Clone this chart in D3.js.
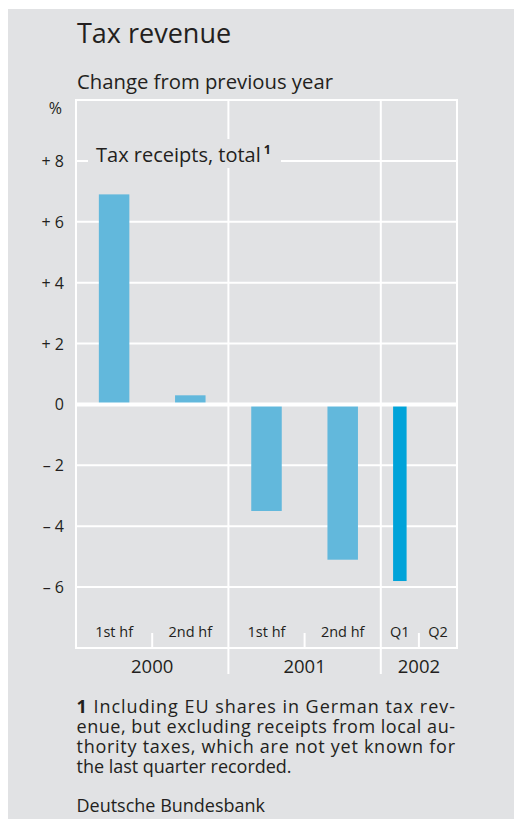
<!DOCTYPE html>
<html><head><meta charset="utf-8">
<script src="https://cdn.jsdelivr.net/npm/d3@7"></script>
<style>
html,body{margin:0;padding:0;background:#fff;}
svg{display:block;}
text{font-family:"Open Sans","Noto Sans",sans-serif;fill:#231f20;}
</style></head>
<body>
<svg id="chart" width="514" height="819"></svg>
<script>
// ---- data ----
const years = ["2000", "2001", "2002"];
const yearSpanQuarters = [4, 4, 2];          // quarters shown per year
const periods = ["1st hf", "2nd hf", "1st hf", "2nd hf", "Q1", "Q2"];
const periodQuarters = [2, 2, 2, 2, 1, 1];   // length of each period in quarters
const values = [6.9, 0.3, -3.5, -5.1, -5.8, null];
const yTickValues = [-6, -4, -2, 0, 2, 4, 6, 8];
const yTickLabels = ["– 6", "– 4", "– 2", "0", "+ 2", "+ 4", "+ 6", "+ 8"];
const title = "Tax revenue";
const subtitle = "Change from previous year";
const unitLabel = "%";
const seriesLabel = "Tax receipts, total";
const footnoteLines = [
  ["1", " Including EU shares in German tax rev-"],
  ["", "enue, but excluding receipts from local au-"],
  ["", "thority taxes, which are not yet known for"],
  ["", "the last quarter recorded."]
];
const source = "Deutsche Bundesbank";

// ---- layout ----
const svg = d3.select("#chart");
const bg = "#e1e2e4";
const grid = "#ffffff";
const light = "#62b8dc", dark = "#00a3d9";
const L = 76, R = 457, T = 100, B = 648;

svg.append("rect").attr("x", 8).attr("y", 9).attr("width", 506).attr("height", 810).attr("fill", bg);

const totalQ = d3.sum(yearSpanQuarters);
const x = d3.scaleLinear().domain([0, totalQ]).range([L, R]);
const y = d3.scaleLinear().domain([-8, 10]).range([B, T]);

const pStart = [];
let acc = 0;
periodQuarters.forEach(q => { pStart.push(acc); acc += q; });
const yStart = [];
acc = 0;
yearSpanQuarters.forEach(q => { yStart.push(acc); acc += q; });

svg.append("text").attr("x", 77).attr("y", 43.3).attr("font-size", 27).text(title);
svg.append("text").attr("x", 77).attr("y", 89).attr("font-size", 20.3).text(subtitle);

const g = svg.append("g");

// horizontal gridlines
g.selectAll("line.h").data(yTickValues.filter(v => v !== 0)).join("line")
  .attr("x1", L).attr("x2", R).attr("y1", d => y(d)).attr("y2", d => y(d))
  .attr("stroke", grid).attr("stroke-width", 2);
// frame
g.append("line").attr("x1", L).attr("x2", R).attr("y1", T).attr("y2", T).attr("stroke", grid).attr("stroke-width", 2);
g.append("line").attr("x1", L).attr("x2", R).attr("y1", B).attr("y2", B).attr("stroke", grid).attr("stroke-width", 2);
g.append("line").attr("x1", L).attr("x2", L).attr("y1", T - 1).attr("y2", B + 1).attr("stroke", grid).attr("stroke-width", 2);
g.append("line").attr("x1", R).attr("x2", R).attr("y1", T - 1).attr("y2", B + 1).attr("stroke", grid).attr("stroke-width", 2);
// year separators extending below
g.selectAll("line.ys").data(yStart.slice(1)).join("line")
  .attr("x1", d => x(d)).attr("x2", d => x(d)).attr("y1", T).attr("y2", 674)
  .attr("stroke", grid).attr("stroke-width", 2);
// small ticks between periods inside a year
const innerTicks = pStart.filter(q => q > 0 && !yStart.includes(q));
g.selectAll("line.it").data(innerTicks).join("line")
  .attr("x1", d => x(d)).attr("x2", d => x(d)).attr("y1", 633).attr("y2", B)
  .attr("stroke", grid).attr("stroke-width", 2);

// legend label with background
g.append("rect").attr("x", 88).attr("y", 139).attr("width", 193).attr("height", 29).attr("fill", bg);
const lt = g.append("text").attr("x", 96).attr("y", 161.5).attr("font-size", 20).text(seriesLabel);
lt.append("tspan").attr("dx", 3).attr("dy", -7.5).attr("font-size", 12.5).attr("font-weight", "bold").text("1");

// bars
const barData = values.map((v, i) => ({v, i})).filter(d => d.v !== null);
const bw = d => periodQuarters[d.i] === 2 ? 30.5 : 13.5;
g.selectAll("rect.bar").data(barData).join("rect")
  .attr("x", d => x(pStart[d.i] + periodQuarters[d.i] / 2) - bw(d) / 2)
  .attr("width", bw)
  .attr("y", d => y(Math.max(0, d.v)))
  .attr("height", d => Math.abs(y(d.v) - y(0)))
  .attr("fill", d => periodQuarters[d.i] === 2 ? light : dark);

// zero line on top
g.append("line").attr("x1", L).attr("x2", R).attr("y1", y(0)).attr("y2", y(0)).attr("stroke", grid).attr("stroke-width", 4);

// y tick labels
g.selectAll("text.yt").data(yTickValues).join("text")
  .attr("x", 64).attr("y", d => y(d) + 6).attr("text-anchor", "end").attr("font-size", 16)
  .text((d, i) => yTickLabels[i]);
g.append("text").attr("x", 62).attr("y", 113.5).attr("text-anchor", "end").attr("font-size", 16).text(unitLabel);

// period labels
g.selectAll("text.pl").data(periods).join("text")
  .attr("x", (d, i) => x(pStart[i] + periodQuarters[i] / 2)).attr("y", 637)
  .attr("text-anchor", "middle").attr("font-size", 14.5)
  .text(d => d);
// year labels
g.selectAll("text.yl").data(years).join("text")
  .attr("x", (d, i) => x(yStart[i] + yearSpanQuarters[i] / 2)).attr("y", 673)
  .attr("text-anchor", "middle").attr("font-size", 18.5)
  .text(d => d);

// footnote
const fnBase = [713.3, 733.3, 753.3, 772.8];
const fnWidths = [378.5, 378.5, 378.5, 215];
footnoteLines.forEach((ln, i) => {
  const t = svg.append("text").attr("x", 76.5).attr("y", fnBase[i]).attr("font-size", 18)
    .attr("textLength", fnWidths[i]).attr("lengthAdjust", "spacing");
  if (ln[0]) t.append("tspan").attr("font-weight", "bold").text(ln[0]);
  t.append("tspan").text(ln[1]);
});
svg.append("text").attr("x", 76.5).attr("y", 811.7).attr("font-size", 18).text(source);
</script>
</body></html>
